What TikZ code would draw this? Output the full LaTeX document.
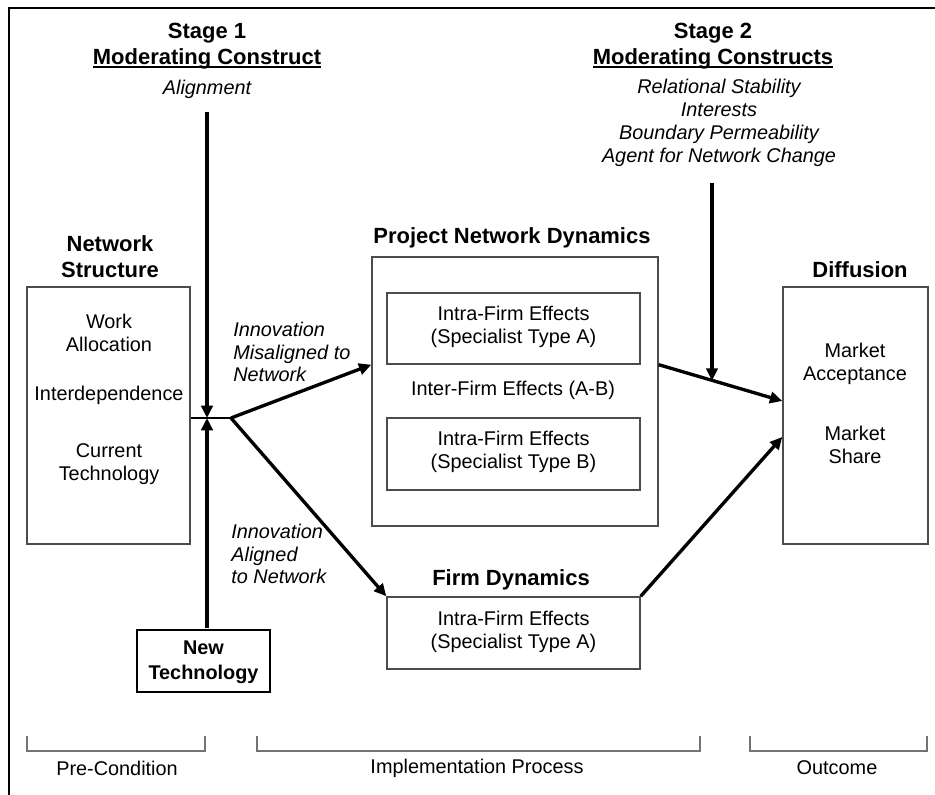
\documentclass[tikz,border=0pt]{standalone}
\usepackage{fontspec}
\setmainfont{Liberation Sans}
\usepackage{tikz}
\usetikzlibrary{arrows.meta,fit,calc}

\newcommand{\undl}[1]{\setbox0\hbox{#1}\rlap{\rule[-2.3pt]{\wd0}{1.2pt}}\box0}

\begin{document}
\begin{tikzpicture}[scale=0.2]
\tikzstyle{every node}+=[inner sep=0pt]
\tikzstyle{txt}=[align=center, font=\fontsize{11.3}{13}\selectfont]
\tikzstyle{itl}=[align=center, font=\fontsize{11.3}{13}\selectfont\itshape]
\tikzstyle{ttl}=[align=center, font=\fontsize{12.5}{14.7}\selectfont\bfseries]
\tikzstyle{box}=[draw=black!70, line width=0.8pt]
\tikzstyle{arr}=[line width=1.9pt, -{Triangle[length=7pt,width=6.5pt]}]
\tikzstyle{brk}=[draw=black!55, line width=0.9pt]
\useasboundingbox (0,0) rectangle (93.5,-79.5);
% frame
\draw [black, line width=1.1pt] (93.5,-0.8) -- (0.9,-0.8) -- (0.9,-79.5);
% stage 1
\node [ttl] (st1) at (20.7,-4.6) {Stage 1\\\undl{Moderating Construct}};
\node [itl] (aln) at (20.7,-8.9) {Alignment};
\coordinate (alt) at (20.7,-11.2);
% pre-condition
\node [ttl] (nst) at (11,-25.7) {Network\\Structure};
\node [box, fit={(2.7,-28.7) (19,-54.4)}] (ns) {};
\node [txt] (work) at (10.9,-33.3) {Work\\Allocation};
\node [txt] (intd) at (10.9,-39.5) {Interdependence};
\node [txt] (curt) at (10.9,-46.4) {Current\\Technology};
\node [draw=black, line width=1.7pt, fit={(13.7,-63) (27,-69.2)}] (nt) {};
\node [align=center, font=\fontsize{11.3}{14.2}\selectfont\bfseries] (ntt) at (20.35,-66.25) {New\\Technology};
\coordinate (jv) at (20.7,-41.8);
\coordinate (j) at (23.1,-41.8);
\draw [black, line width=0.8pt] (ns.east |- j) -- (j);
\draw [arr] (alt) -- (jv);
\draw [arr] (nt.north -| jv) -- (jv);
% implementation
\node [ttl] (pndt) at (51.2,-23.8) {Project Network Dynamics};
\node [box, fit={(37.2,-25.7) (65.8,-52.6)}] (pnd) {};
\node [box, fit={(38.7,-29.3) (64,-36.4)}] (boxa) {};
\node [txt] (boxat) at (51.35,-32.65) {Intra-Firm Effects\\(Specialist Type A)};
\node [txt] (inter) at (51.3,-39) {Inter-Firm Effects (A-B)};
\node [box, fit={(38.7,-41.8) (64,-49)}] (boxb) {};
\node [txt] (boxbt) at (51.35,-45.2) {Intra-Firm Effects\\(Specialist Type B)};
\node [ttl] (fdt) at (51.1,-58) {Firm Dynamics};
\node [box, fit={(38.7,-59.7) (64,-66.9)}] (fd) {};
\node [txt] (fdtx) at (51.35,-63.15) {Intra-Firm Effects\\(Specialist Type A)};
\node [itl, anchor=west, align=left] (mis) at (23.3,-35.2) {Innovation\\Misaligned to\\Network};
\node [itl, anchor=west, align=left] (ali) at (23.1,-55.4) {Innovation\\Aligned\\to Network};
\draw [arr] (j) -- (pnd.west |- boxa.south);
\draw [arr] (j) -- (fd.north west);
% stage 2
\node [ttl] (st2) at (71.3,-4.6) {Stage 2\\\undl{Moderating Constructs}};
\node [itl] (mods) at (71.9,-12.3) {Relational Stability\\Interests\\Boundary Permeability\\Agent for Network Change};
\coordinate (s2t) at (71.2,-18.3);
% outcome
\node [ttl] (dift) at (86,-27) {Diffusion};
\node [box, fit={(78.3,-28.7) (92.8,-54.4)}] (diff) {};
\node [txt] (macc) at (85.5,-36.4) {Market\\Acceptance};
\node [txt] (mshr) at (85.5,-44.5) {Market\\Share};
\coordinate (po) at (pnd.east |- boxa.south);
\coordinate (di) at ($(diff.west)+(0,1.45)$);
\coordinate (s2m) at ($(po)!0.44!(di)$);
\draw [arr] (po) -- (di);
\draw [arr] (s2t) -- (s2t |- s2m);
\draw [arr] (fd.north east) -- ($(diff.west)+(0,-2.15)$);
% phases
\draw [brk] (2.7,-73.6) -- (2.7,-75.1) -- (20.5,-75.1) -- (20.5,-73.6);
\draw [brk] (25.7,-73.6) -- (25.7,-75.1) -- (70,-75.1) -- (70,-73.6);
\draw [brk] (75,-73.6) -- (75,-75.1) -- (92.7,-75.1) -- (92.7,-73.6);
\node [txt] (pre) at (11.7,-76.8) {Pre-Condition};
\node [txt] (imp) at (47.7,-76.8) {Implementation Process};
\node [txt] (out) at (83.7,-76.8) {Outcome};
\end{tikzpicture}
\end{document}
